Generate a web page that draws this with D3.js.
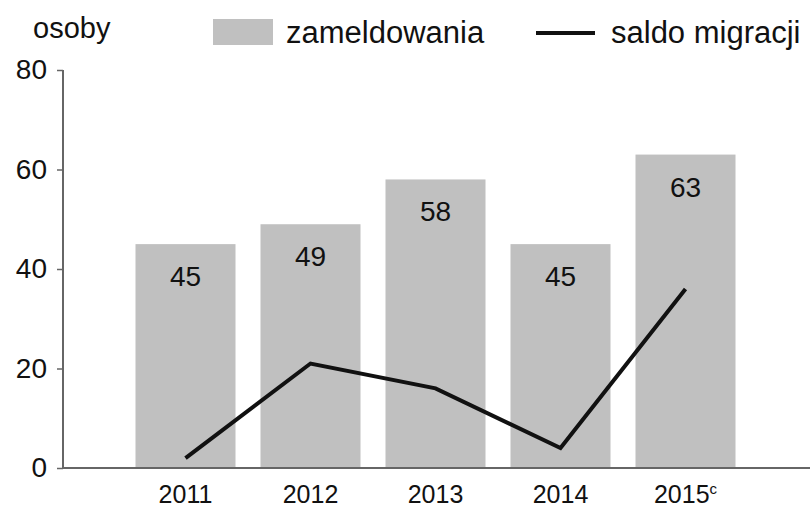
<!DOCTYPE html>
<html><head><meta charset="utf-8">
<script src="https://cdn.jsdelivr.net/npm/d3@7"></script>
<style>body{margin:0;background:#fff}svg{display:block;font-family:"Liberation Sans",Arial,sans-serif}</style>
</head><body>
<svg id="c" width="810" height="511"></svg>
<script>
const categories = ["2011","2012","2013","2014","2015"];
const zameldowania = [45,49,58,45,63];
const saldoMigracji = [2,21,16,4,36];
const yTicks = [0,20,40,60,80];

const svg = d3.select("#c");
const x = d3.scaleBand().domain(categories).range([123,748]).paddingInner(0.2).paddingOuter(0.1);
const y = d3.scaleLinear().domain([0,80]).range([468,70]);

// bars
svg.selectAll("rect.bar").data(categories).join("rect")
  .attr("x", d=>x(d)).attr("width", x.bandwidth())
  .attr("y", (d,i)=>y(zameldowania[i])).attr("height",(d,i)=>y(0)-y(zameldowania[i]))
  .attr("fill","#c0c0c0");

// bar labels
svg.selectAll("text.bl").data(categories).join("text")
  .attr("x", d=>x(d)+x.bandwidth()/2).attr("y",(d,i)=>y(zameldowania[i])+42)
  .attr("text-anchor","middle").attr("font-size",28).attr("fill","#111")
  .text((d,i)=>zameldowania[i]);

// y axis
const yAxis = d3.axisLeft(y).tickValues(yTicks).tickSize(6).tickPadding(10);
const gy = svg.append("g").attr("transform","translate(63,0)").call(yAxis);
gy.select(".domain").attr("stroke","#666").attr("stroke-width",2).attr("d","M0,70V468");
gy.selectAll(".tick line").attr("stroke","#666").attr("stroke-width",1.5);
gy.selectAll(".tick text").attr("font-size",28).attr("fill","#111").attr("font-family","Liberation Sans, Arial, sans-serif");

// x axis line
svg.append("line").attr("x1",63).attr("x2",810).attr("y1",y(0)).attr("y2",y(0)).attr("stroke","#666").attr("stroke-width",2);

// x labels
svg.selectAll("text.xl").data(categories).join("text")
  .attr("x", d=>x(d)+x.bandwidth()/2).attr("y",503)
  .attr("text-anchor","middle").attr("font-size",25).attr("fill","#111")
  .each(function(d,i){
    const t = d3.select(this);
    t.append("tspan").text(d);
    if(i===categories.length-1) t.append("tspan").attr("font-size",15).attr("dy",-9).text("c");
  });

// line
const line = d3.line().x((d,i)=>x(categories[i])+x.bandwidth()/2).y(d=>y(d));
svg.append("path").datum(saldoMigracji).attr("d",line).attr("fill","none")
  .attr("stroke","#111").attr("stroke-width",4).attr("stroke-linejoin","miter");

// title + legend
svg.append("text").attr("x",33).attr("y",38).attr("font-size",29).attr("fill","#111").text("osoby");
svg.append("rect").attr("x",213).attr("y",19).attr("width",60).attr("height",26).attr("fill","#c0c0c0");
svg.append("text").attr("x",286).attr("y",43).attr("font-size",31).attr("fill","#111").text("zameldowania");
svg.append("line").attr("x1",536).attr("x2",595).attr("y1",33).attr("y2",33).attr("stroke","#111").attr("stroke-width",4);
svg.append("text").attr("x",611).attr("y",43).attr("font-size",31).attr("fill","#111").text("saldo migracji");
</script>
</body></html>
